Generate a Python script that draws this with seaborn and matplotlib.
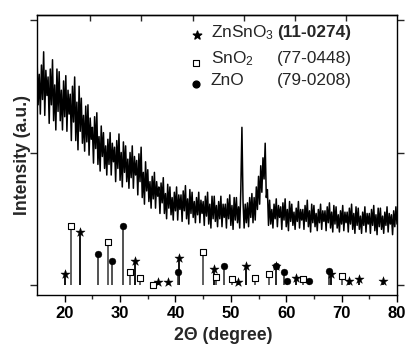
import numpy as np
import pandas as pd
import matplotlib
matplotlib.use("Agg")
import matplotlib.pyplot as plt
import seaborn as sns

# ---- XRD scan (2theta from 15 to 80 deg, 0.2 deg step) ----
two_theta = np.round(np.arange(15.0, 80.0001, 0.2), 1)
intensity = [
    1.73, 1.36, 1.59, 1.29, 1.66,  1.40, 1.76, 1.28, 1.62, 1.43,
    1.57, 1.22, 1.63, 1.36, 1.70,  1.24, 1.51, 1.17, 1.63, 1.31,
    1.61, 1.24, 1.47, 1.17, 1.54,  1.27, 1.58, 1.16, 1.47, 1.29,
    1.44, 1.09, 1.50, 1.23, 1.57,  1.09, 1.38, 1.02, 1.50, 1.16,
    1.41, 1.07, 1.28, 1.01, 1.35,  1.08, 1.36, 0.98, 1.26, 1.10,
    1.19, 0.92, 1.27, 1.03, 1.30,  0.91, 1.12, 0.86, 1.20, 0.97,
    1.15, 0.88, 1.05, 0.83, 1.10,  0.91, 1.15, 0.83, 1.07, 0.93,
    1.04, 0.78, 1.09, 0.88, 1.14,  0.79, 1.00, 0.74, 1.08, 0.85,
    1.05, 0.78, 0.95, 0.73, 1.00,  0.81, 1.05, 0.73, 0.97, 0.83,
    0.94, 0.68, 0.99, 0.78, 1.04,  0.66, 0.85, 0.61, 0.93, 0.71,
    0.87, 0.63, 0.78, 0.58, 0.82,  0.65, 0.85, 0.58, 0.78, 0.67,
    0.74, 0.54, 0.77, 0.62, 0.81,  0.54, 0.69, 0.50, 0.76, 0.58,
    0.74, 0.53, 0.66, 0.49, 0.70,  0.56, 0.74, 0.49, 0.68, 0.57,
    0.68, 0.48, 0.71, 0.56, 0.75,  0.50, 0.65, 0.46, 0.72, 0.54,
    0.70, 0.51, 0.63, 0.47, 0.66,  0.53, 0.70, 0.47, 0.64, 0.54,
    0.63, 0.45, 0.67, 0.52, 0.70,  0.46, 0.61, 0.43, 0.67, 0.50,
    0.67, 0.48, 0.60, 0.44, 0.63,  0.50, 0.67, 0.44, 0.61, 0.51,
    0.61, 0.43, 0.65, 0.50, 0.68,  0.45, 0.60, 0.42, 0.66, 0.49,
    0.66, 0.47, 0.59, 0.43, 0.72,  1.19, 0.63, 0.43, 0.61, 0.47,
    0.62, 0.44, 0.66, 0.51, 0.69,  0.47, 0.66, 0.49, 0.74, 0.57,
    0.82, 0.61, 0.90, 0.70, 0.96,  0.80, 1.07, 0.66, 0.72, 0.45,
    0.64, 0.46, 0.57, 0.43, 0.61,  0.50, 0.65, 0.44, 0.60, 0.51,
    0.59, 0.42, 0.62, 0.49, 0.65,  0.44, 0.57, 0.41, 0.63, 0.48,
    0.61, 0.45, 0.55, 0.42, 0.58,  0.48, 0.63, 0.43, 0.57, 0.49,
    0.57, 0.42, 0.60, 0.48, 0.64,  0.44, 0.56, 0.40, 0.61, 0.47,
    0.60, 0.44, 0.54, 0.41, 0.57,  0.47, 0.61, 0.42, 0.56, 0.48,
    0.56, 0.41, 0.59, 0.47, 0.62,  0.43, 0.55, 0.40, 0.60, 0.46,
    0.59, 0.43, 0.53, 0.40, 0.56,  0.46, 0.60, 0.41, 0.55, 0.47,
    0.55, 0.40, 0.58, 0.46, 0.61,  0.42, 0.54, 0.39, 0.59, 0.45,
    0.58, 0.42, 0.52, 0.39, 0.55,  0.45, 0.59, 0.40, 0.54, 0.46,
    0.54, 0.39, 0.57, 0.45, 0.60,  0.41, 0.53, 0.38, 0.58, 0.44,
    0.58, 0.42, 0.52, 0.39, 0.55,  0.45, 0.59, 0.40, 0.54, 0.46,
    0.53, 0.38, 0.56, 0.44, 0.59,  0.46,
]

# ---- reference patterns (JCPDS) ----
znsno3_pos = [20.0, 22.8, 32.7, 36.9, 38.6, 40.7, 46.9, 51.3, 52.8, 58.1, 61.7, 68.0, 71.4, 73.1, 77.4]
znsno3_h = [0.08, 0.40, 0.18, 0.025, 0.025, 0.206, 0.118, 0.025, 0.143, 0.146, 0.055, 0.08, 0.033, 0.043, 0.033]
sno2_pos = [21.2, 27.9, 31.8, 33.6, 35.9, 44.9, 47.4, 50.2, 54.4, 56.8, 63.0, 70.0]
sno2_h = [0.445, 0.325, 0.098, 0.053, 0.0, 0.25, 0.063, 0.045, 0.055, 0.08, 0.043, 0.068]
zno_pos = [26.1, 28.5, 30.5, 40.5, 48.8, 58.2, 59.6, 60.2, 64.2, 67.8]
zno_h = [0.234, 0.18, 0.445, 0.096, 0.143, 0.14, 0.10, 0.033, 0.033, 0.108]

legend_names = ["ZnSnO$_3$", "SnO$_2$", "ZnO"]
legend_cards = ["(11-0274)", "(77-0448)", "(79-0208)"]

x_ticks = [20, 30, 40, 50, 60, 70, 80]
top_ticks = [24.6, 33.85, 43.1, 52.35, 61.6, 70.85]

sns.set_style("ticks")
plt.rcParams["font.family"] = ["Liberation Sans", "DejaVu Sans"]
plt.rcParams["mathtext.fontset"] = "custom"
plt.rcParams["mathtext.rm"] = "Liberation Sans"
plt.rcParams["mathtext.it"] = "Liberation Sans"
plt.rcParams["mathtext.bf"] = "Liberation Sans:bold"

fig = plt.figure(figsize=(4.08, 3.47), dpi=100)
ax = fig.add_axes([37 / 408, 52 / 347, 360 / 408, 280 / 347])

df = pd.DataFrame({"tt": two_theta, "I": intensity})
sns.lineplot(data=df, x="tt", y="I", ax=ax, color="black", lw=1.1,
             estimator=None, sort=False, legend=False)

# sticks
ax.vlines(znsno3_pos, 0, znsno3_h, colors="#111111", lw=1.4, zorder=2)
ax.vlines(sno2_pos, 0, sno2_h, colors="#444444", lw=1.2, zorder=2)
ax.vlines(zno_pos, 0, zno_h, colors="#333333", lw=1.2, zorder=2)

sns.scatterplot(x=znsno3_pos, y=znsno3_h, ax=ax, marker="*", s=48,
                color="black", edgecolor="black", linewidth=0.3, zorder=4, legend=False)
sns.scatterplot(x=sno2_pos, y=sno2_h, ax=ax, marker="s", s=24,
                facecolor="white", edgecolor="black", linewidth=0.8, zorder=4, legend=False)
sns.scatterplot(x=zno_pos, y=zno_h, ax=ax, marker="o", s=24,
                color="black", edgecolor="black", linewidth=0.3, zorder=4, legend=False)

# legend (manual)
leg_y = [0.938, 0.843, 0.765]
ax.scatter([0.444], [leg_y[0] - 0.008], transform=ax.transAxes, marker="*", s=40,
           color="black", clip_on=False, zorder=5)
ax.scatter([0.442], [leg_y[1] - 0.014], transform=ax.transAxes, marker="s", s=20,
           facecolor="white", edgecolor="black", linewidths=0.8, clip_on=False, zorder=5)
ax.scatter([0.442], [leg_y[2] - 0.010], transform=ax.transAxes, marker="o", s=24,
           color="black", clip_on=False, zorder=5)
for i in range(3):
    ax.text(0.483, leg_y[i], legend_names[i], transform=ax.transAxes,
            fontsize=12.4, va="center", ha="left")
    ax.text(0.667, leg_y[i], legend_cards[i], transform=ax.transAxes,
            fontsize=12.4, va="center", ha="left",
            fontweight="bold" if i == 0 else "normal")

ax.set_xlim(15, 80)
ax.set_ylim(-10 / 132.5, 2 + 5 / 132.5)
ax.set_xticks(x_ticks)
ax.set_xticks([25, 35, 45, 55, 65, 75], minor=True)
ax.set_yticks([0, 1, 2])
ax.set_yticklabels([])
ax.tick_params(axis="x", which="major", direction="out", length=5, width=1.0,
               labelsize=12, pad=3, colors="black")
ax.tick_params(axis="x", which="minor", direction="out", length=3, width=1.0)
ax.tick_params(axis="y", which="major", direction="out", length=5, width=1.0,
               left=True, right=True)
for lab in ax.get_xticklabels():
    lab.set_fontweight("bold")

sec = ax.secondary_xaxis("top")
sec.set_xticks(top_ticks)
sec.set_xticklabels([])
sec.tick_params(direction="in", length=4, width=1.0)

for sp in ax.spines.values():
    sp.set_visible(True)
    sp.set_linewidth(1.0)
    sp.set_color("black")
for sp in sec.spines.values():
    sp.set_linewidth(1.0)

ax.set_xlabel("2Θ (degree)", fontsize=12.7, fontweight="bold")
ax.set_ylabel("Intensity (a.u.)", fontsize=12.7, fontweight="bold")
ax.xaxis.set_label_coords(0.517, -0.115)
ax.yaxis.set_label_coords(-0.016, 0.5)

fig.savefig("out.png", dpi=100)
